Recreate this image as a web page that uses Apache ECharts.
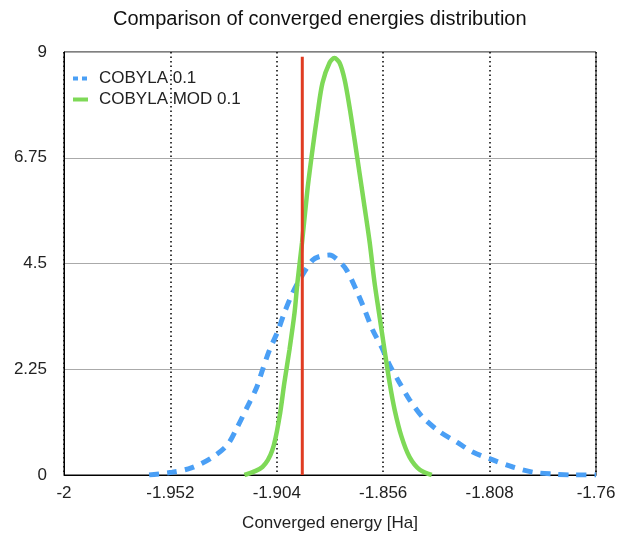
<!DOCTYPE html>
<html>
<head>
<meta charset="utf-8">
<script src="https://cdn.jsdelivr.net/npm/echarts@6/dist/echarts.min.js"></script>
<style>
  html, body { margin: 0; padding: 0; background: #fff; }
  #chart { width: 618px; height: 535px; }
</style>
</head>
<body>
<div id="chart"></div>
<script>
// values
const seriesNames = ['COBYLA 0.1', 'COBYLA MOD 0.1'];

const blueX = [-1.9616, -1.9512, -1.9426, -1.9336, -1.9263, -1.9218, -1.9173, -1.9132, -1.9105, -1.9073,
  -1.9037, -1.9006, -1.8969, -1.8929, -1.8879, -1.8847, -1.8802, -1.8766, -1.8725, -1.8680, -1.8644,
  -1.8608, -1.8567, -1.8531, -1.8486, -1.8441, -1.8382, -1.8305, -1.8228, -1.8156, -1.8065, -1.7975,
  -1.7885, -1.7794, -1.7703, -1.7600];
const blueY = [0, 0.06, 0.15, 0.36, 0.64, 1.02, 1.45, 1.85, 2.23, 2.66,
  3.04, 3.45, 3.87, 4.22, 4.57, 4.65, 4.68, 4.58, 4.36, 3.92, 3.52,
  3.09, 2.72, 2.34, 1.96, 1.60, 1.23, 0.92, 0.70, 0.49, 0.32, 0.17,
  0.06, 0.02, 0, 0];

const greenX = [-1.9186, -1.9105, -1.9060, -1.9028, -1.9006, -1.8983, -1.8960, -1.8947, -1.8926, -1.8902,
  -1.8879, -1.8856, -1.8834, -1.8802, -1.8780, -1.8757, -1.8734, -1.8712, -1.8689, -1.8667,
  -1.8644, -1.8621, -1.8599, -1.8576, -1.8554, -1.8531, -1.8508, -1.8477, -1.8441, -1.8395, -1.8341];
const greenY = [0, 0.17, 0.53, 1.23, 1.96, 2.66, 3.45, 4.09, 4.95, 6.06,
  6.92, 7.70, 8.34, 8.77, 8.87, 8.77, 8.41, 7.83, 7.13, 6.43,
  5.70, 4.95, 4.09, 3.36, 2.66, 1.96, 1.38, 0.81, 0.38, 0.11, 0];

const refX = -1.8925;
const refY = [0, 8.9];

const xTicks = [-2, -1.952, -1.904, -1.856, -1.808, -1.76];
const yTicks = [0, 2.25, 4.5, 6.75, 9];

const pairs = (xs, ys) => xs.map((x, i) => [x, ys[i]]);

const font = '"Liberation Sans", Arial, Helvetica, sans-serif';
const blue = '#4a9ff5', green = '#7ed957', red = '#e03c22';

const chart = echarts.init(document.getElementById('chart'));

chart.setOption({
  backgroundColor: '#fff',
  animation: false,
  textStyle: { fontFamily: font },
  title: {
    text: 'Comparison of converged energies distribution',
    left: 113,
    top: 9,
    padding: 0,
    textStyle: { fontSize: 20, fontWeight: 'normal', color: '#111', fontFamily: font }
  },
  legend: {
    data: [
      { name: seriesNames[0], lineStyle: { type: [5, 4], width: 4 } },
      { name: seriesNames[1], lineStyle: { width: 4 } }
    ],
    orient: 'vertical',
    left: 66,
    top: 65,
    itemGap: 4,
    itemWidth: 15,
    itemHeight: 14,
    itemStyle: { opacity: 0 },
    textStyle: { fontSize: 17, color: '#222', fontFamily: font, padding: [0, 0, 0, 6] }
  },
  grid: {
    left: 64,
    right: 22,
    top: 52,
    bottom: 60,
    outerBoundsMode: 'none',
    show: true,
    borderColor: '#000',
    borderWidth: 1
  },
  xAxis: {
    type: 'value',
    min: xTicks[0],
    max: xTicks[xTicks.length - 1],
    interval: 0.048,
    name: 'Converged energy [Ha]',
    nameLocation: 'middle',
    nameGap: 40,
    nameTextStyle: { fontSize: 17, color: '#222', fontFamily: font },
    axisLine: { show: true, lineStyle: { color: '#000' } },
    axisTick: { show: false },
    axisLabel: {
      fontSize: 17, color: '#222', margin: 10,
      formatter: v => String(+v.toFixed(3))
    },
    splitLine: { show: true, lineStyle: { color: '#000', type: [1.5, 3], width: 1.5 } }
  },
  yAxis: {
    type: 'value',
    min: yTicks[0],
    max: yTicks[yTicks.length - 1],
    interval: 2.25,
    axisLine: { show: true, lineStyle: { color: '#000' } },
    axisTick: { show: false },
    axisLabel: { fontSize: 17, color: '#222', margin: 17 },
    splitLine: { show: true, lineStyle: { color: '#aaa', width: 1 } }
  },
  series: [
    {
      name: seriesNames[0],
      type: 'line',
      symbol: 'none',
      smooth: 0.3,
      data: pairs(blueX, blueY),
      lineStyle: { color: blue, width: 5, type: [10, 8] },
      itemStyle: { color: blue }
    },
    {
      name: seriesNames[1],
      type: 'line',
      symbol: 'none',
      smooth: 0.3,
      data: pairs(greenX, greenY),
      lineStyle: { color: green, width: 4.5 },
      itemStyle: { color: green }
    },
    {
      name: 'ref',
      type: 'line',
      symbol: 'none',
      data: refY.map(y => [refX, y]),
      lineStyle: { color: red, width: 3 },
      itemStyle: { color: red },
      z: 5
    }
  ]
});
</script>
</body>
</html>
